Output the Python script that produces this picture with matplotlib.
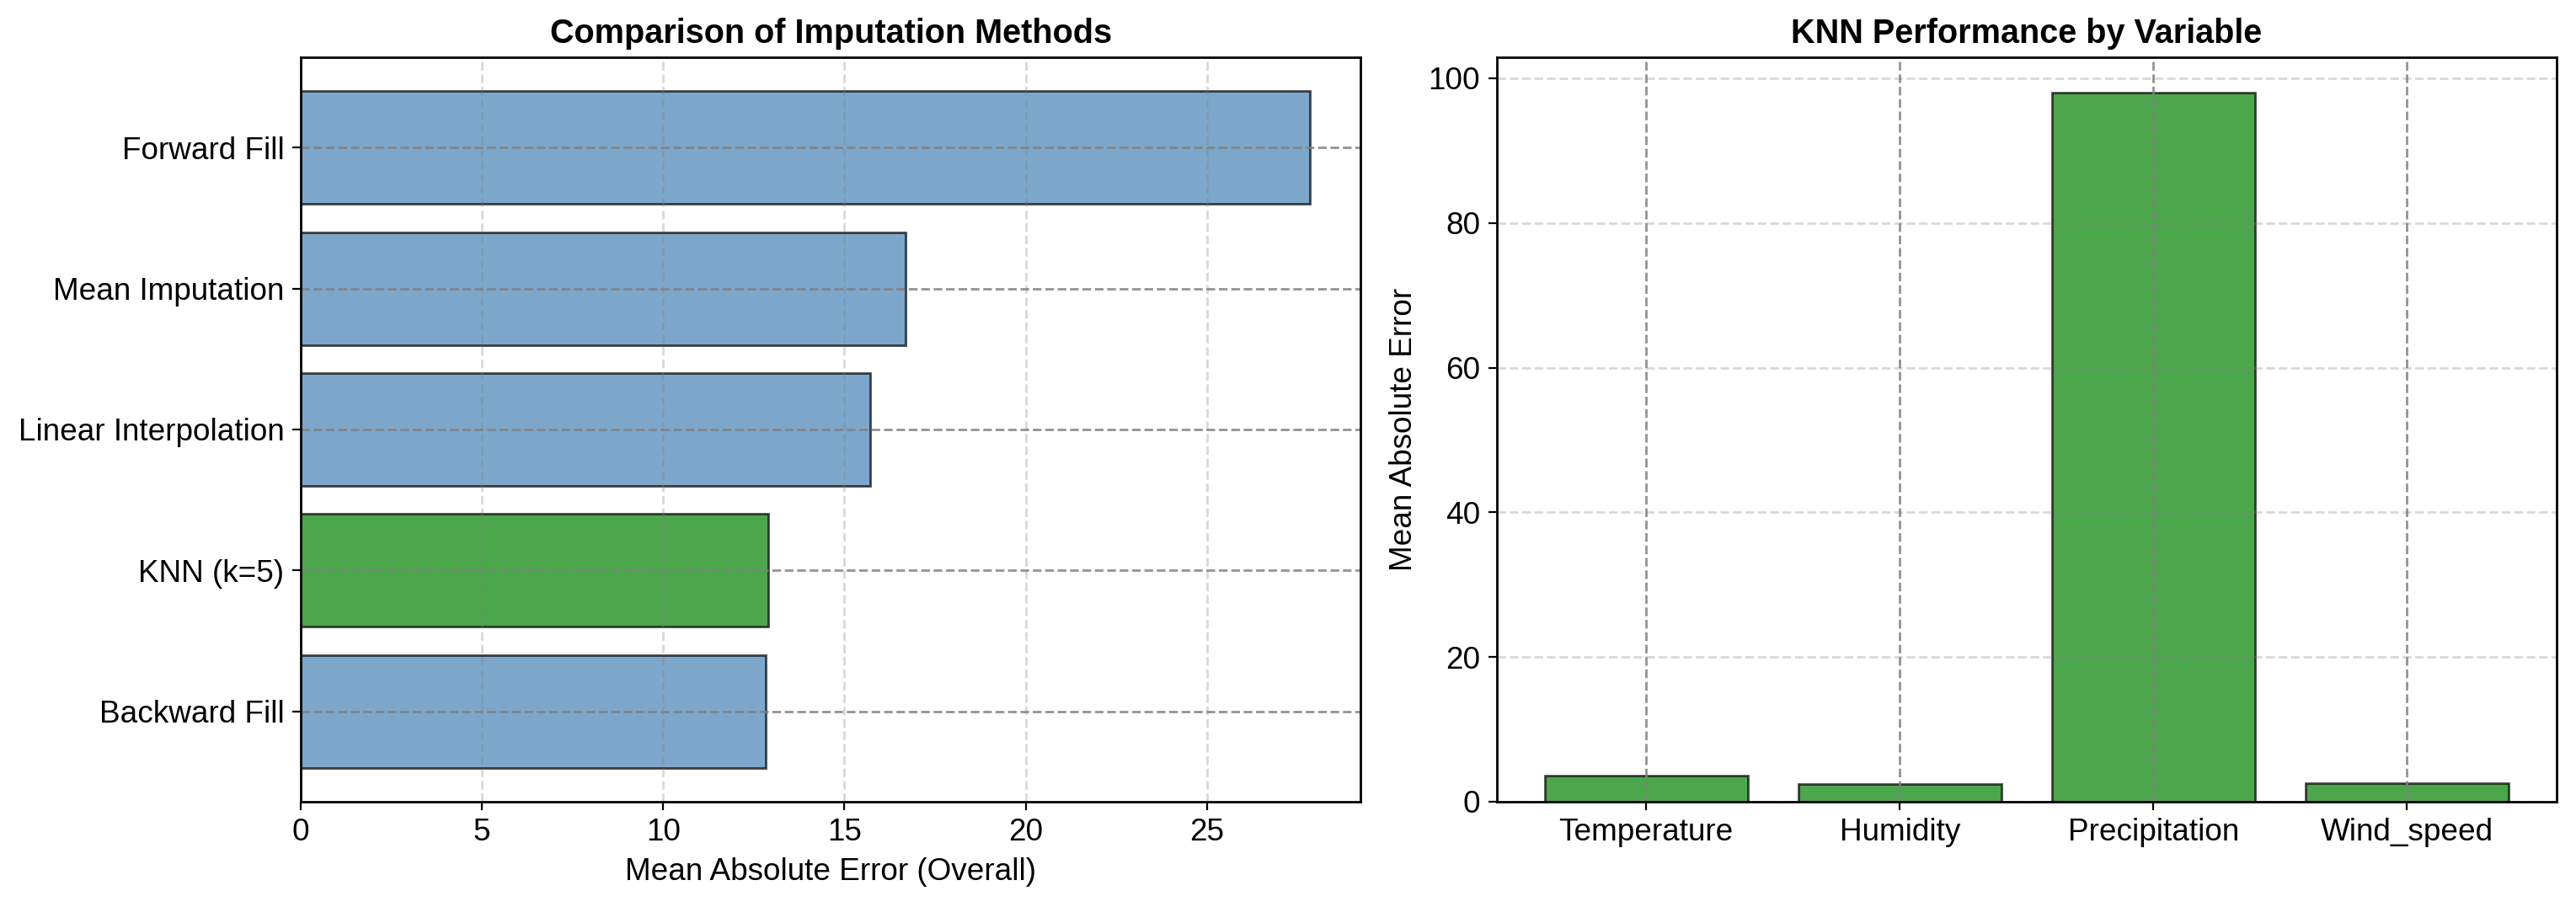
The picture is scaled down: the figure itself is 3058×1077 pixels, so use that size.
import matplotlib
matplotlib.use("Agg")
import matplotlib.pyplot as plt

plt.rcParams['font.family'] = ['Liberation Sans', 'DejaVu Sans']

methods = ["Backward Fill", "KNN (k=5)", "Linear Interpolation", "Mean Imputation", "Forward Fill"]
method_mae = [12.82, 12.90, 15.72, 16.68, 27.85]
method_colors = ["steelblue", "green", "steelblue", "steelblue", "steelblue"]

variables = ["Temperature", "Humidity", "Precipitation", "Wind_speed"]
knn_mae = [3.65, 2.45, 98.0, 2.6]

fig, (ax1, ax2) = plt.subplots(1, 2, figsize=(15.29, 5.385), dpi=200)
fig.subplots_adjust(left=0.1167, right=0.9925, bottom=0.1161, top=0.9369, wspace=0.128)

FS = 13.3
TFS = 14.25

ax1.barh(methods, method_mae, color=method_colors, alpha=0.7, edgecolor='black', linewidth=1)
ax1.set_xlabel("Mean Absolute Error (Overall)", fontsize=FS)
ax1.set_title("Comparison of Imputation Methods", fontsize=TFS, fontweight='bold')
ax1.grid(axis='x', linestyle='--', color='gray', alpha=0.3, linewidth=1)
ax1.grid(axis='y', linestyle='--', color='gray', alpha=0.85, linewidth=1)
ax1.tick_params(labelsize=FS)

ax2.bar(variables, knn_mae, color='green', alpha=0.7, edgecolor='black', linewidth=1)
ax2.set_ylabel("Mean Absolute Error", fontsize=FS)
ax2.set_title("KNN Performance by Variable", fontsize=TFS, fontweight='bold')
ax2.grid(axis='y', linestyle='--', color='gray', alpha=0.3, linewidth=1)
ax2.grid(axis='x', linestyle='--', color='gray', alpha=0.85, linewidth=1)
ax2.tick_params(labelsize=FS)

for ax in (ax1, ax2):
    for s in ax.spines.values():
        s.set_linewidth(1.0)

fig.savefig("out.png", dpi=200)
